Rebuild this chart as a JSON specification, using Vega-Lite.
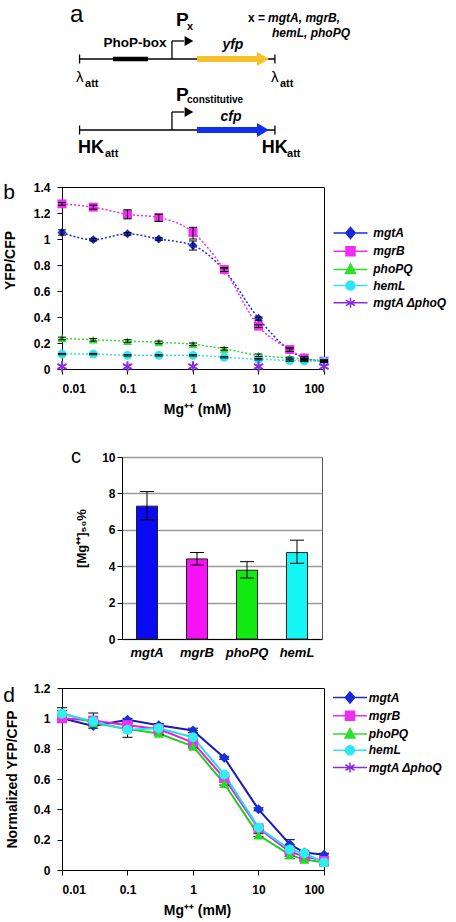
{
 "$schema": "https://vega.github.io/schema/vega-lite/v6.json",
 "background": "white",
 "padding": {"left": 2, "top": 0, "right": 0, "bottom": 0},
 "spacing": 21,
 "resolve": {"scale": {"color": "independent", "shape": "independent", "stroke": "independent"}},
 "config": {
  "font": "Liberation Sans",
  "view": {"stroke": null},
  "axis": {"labelFont": "Liberation Sans", "titleFont": "Liberation Sans", "labelFontWeight": "bold", "labelFontSize": 12, "labelColor": "black", "titleFontWeight": "bold", "titleFontSize": 13, "titleColor": "black", "domainColor": "black", "tickColor": "black", "grid": false, "tickSize": 5},
  "legend": {"labelFont": "Liberation Sans"},
  "text": {"font": "Liberation Sans"}
 },
 "datasets": {
  "segs": [
   {"part": "line", "x": 0, "x2": 100, "y": 5.9, "y2": 5.9},
   {"part": "line", "x": 0, "x2": 0, "y": 5.45, "y2": 6.35},
   {"part": "line", "x": 100, "x2": 100, "y": 5.45, "y2": 6.35},
   {"part": "line", "x": 47.3, "x2": 47.3, "y": 5.9, "y2": 4.1},
   {"part": "line", "x": 47.3, "x2": 53.5, "y": 4.1, "y2": 4.1},
   {"part": "line", "x": 0, "x2": 100, "y": 13.0, "y2": 13.0},
   {"part": "line", "x": 0, "x2": 0, "y": 12.55, "y2": 13.45},
   {"part": "line", "x": 100, "x2": 100, "y": 12.55, "y2": 13.45},
   {"part": "line", "x": 47.3, "x2": 47.3, "y": 13.0, "y2": 11.2},
   {"part": "line", "x": 47.3, "x2": 53.5, "y": 11.2, "y2": 11.2},
   {"part": "box", "x": 17.1, "x2": 35.0, "y": 5.9, "y2": 5.9},
   {"part": "yfp", "x": 60.1, "x2": 91.0, "y": 5.9, "y2": 5.9},
   {"part": "cfp", "x": 60.1, "x2": 91.0, "y": 13.0, "y2": 13.0}
  ],
  "heads": [
   {"part": "promoter", "x": 56.0, "y": 4.1},
   {"part": "promoter", "x": 56.0, "y": 11.2},
   {"part": "yfp", "x": 93.9, "y": 5.9},
   {"part": "cfp", "x": 93.9, "y": 13.0}
  ],
  "labels": [
   {"t": "a", "x": -4.9, "y": 1.5, "style": "panel"},
   {"t": "PhoP-box", "x": 28.4, "y": 4.3, "style": "lab"},
   {"t": "P", "x": 49.4, "y": 2.0, "style": "big"},
   {"t": "x", "x": 55.0, "y": 2.65, "style": "sub"},
   {"t": "yfp", "x": 78.5, "y": 4.5, "style": "gene"},
   {"t": "x =", "x": 86.2, "y": 1.83, "style": "noteplain"},
   {"t": "mgtA, mgrB,", "x": 96.5, "y": 1.83, "style": "note"},
   {"t": "hemL, phoPQ", "x": 98.5, "y": 3.33, "style": "note"},
   {"t": "λ", "x": -1.8, "y": 7.7, "style": "lambda"},
   {"t": "att", "x": 2.8, "y": 8.4, "style": "sub"},
   {"t": "λ", "x": 98.0, "y": 7.7, "style": "lambda"},
   {"t": "att", "x": 102.6, "y": 8.4, "style": "sub"},
   {"t": "P", "x": 49.4, "y": 9.5, "style": "big"},
   {"t": "constitutive", "x": 55.0, "y": 10.0, "style": "subs"},
   {"t": "cfp", "x": 77.5, "y": 11.67, "style": "gene"},
   {"t": "HK", "x": -0.8, "y": 14.8, "style": "hk"},
   {"t": "att", "x": 13.0, "y": 15.4, "style": "sub"},
   {"t": "HK", "x": 93.2, "y": 14.8, "style": "hk"},
   {"t": "att", "x": 106.2, "y": 15.4, "style": "sub"}
  ],
  "b": [
   {"series": "mgtA", "mg": 0.01, "v": 1.05, "lo": 1.03, "hi": 1.07},
   {"series": "mgtA", "mg": 0.03, "v": 0.995, "lo": 0.985, "hi": 1.005},
   {"series": "mgtA", "mg": 0.1, "v": 1.04, "lo": 1.03, "hi": 1.05},
   {"series": "mgtA", "mg": 0.3, "v": 1.0, "lo": 0.99, "hi": 1.01},
   {"series": "mgtA", "mg": 1, "v": 0.95, "lo": 0.915, "hi": 0.985},
   {"series": "mgtA", "mg": 3, "v": 0.76, "lo": 0.75, "hi": 0.775},
   {"series": "mgtA", "mg": 10, "v": 0.39, "lo": 0.375, "hi": 0.4},
   {"series": "mgtA", "mg": 30, "v": 0.145, "lo": 0.135, "hi": 0.155},
   {"series": "mgtA", "mg": 50, "v": 0.085, "lo": 0.078, "hi": 0.092},
   {"series": "mgtA", "mg": 100, "v": 0.06, "lo": 0.055, "hi": 0.065},
   {"series": "mgrB", "mg": 0.01, "v": 1.27, "lo": 1.26, "hi": 1.28},
   {"series": "mgrB", "mg": 0.03, "v": 1.245, "lo": 1.23, "hi": 1.26},
   {"series": "mgrB", "mg": 0.1, "v": 1.19, "lo": 1.155, "hi": 1.225},
   {"series": "mgrB", "mg": 0.3, "v": 1.165, "lo": 1.135, "hi": 1.19},
   {"series": "mgrB", "mg": 1, "v": 1.05, "lo": 1.0, "hi": 1.09},
   {"series": "mgrB", "mg": 3, "v": 0.765, "lo": 0.75, "hi": 0.78},
   {"series": "mgrB", "mg": 10, "v": 0.33, "lo": 0.32, "hi": 0.34},
   {"series": "mgrB", "mg": 30, "v": 0.15, "lo": 0.135, "hi": 0.165},
   {"series": "mgrB", "mg": 50, "v": 0.085, "lo": 0.075, "hi": 0.095},
   {"series": "mgrB", "mg": 100, "v": 0.06, "lo": 0.05, "hi": 0.07},
   {"series": "phoPQ", "mg": 0.01, "v": 0.235, "lo": 0.225, "hi": 0.245},
   {"series": "phoPQ", "mg": 0.03, "v": 0.225, "lo": 0.215, "hi": 0.235},
   {"series": "phoPQ", "mg": 0.1, "v": 0.215, "lo": 0.205, "hi": 0.225},
   {"series": "phoPQ", "mg": 0.3, "v": 0.205, "lo": 0.195, "hi": 0.215},
   {"series": "phoPQ", "mg": 1, "v": 0.19, "lo": 0.18, "hi": 0.2},
   {"series": "phoPQ", "mg": 3, "v": 0.155, "lo": 0.145, "hi": 0.165},
   {"series": "phoPQ", "mg": 10, "v": 0.105, "lo": 0.095, "hi": 0.115},
   {"series": "phoPQ", "mg": 30, "v": 0.085, "lo": 0.078, "hi": 0.092},
   {"series": "phoPQ", "mg": 50, "v": 0.075, "lo": 0.07, "hi": 0.08},
   {"series": "phoPQ", "mg": 100, "v": 0.065, "lo": 0.06, "hi": 0.07},
   {"series": "hemL", "mg": 0.01, "v": 0.115, "lo": 0.11, "hi": 0.12},
   {"series": "hemL", "mg": 0.03, "v": 0.115, "lo": 0.11, "hi": 0.12},
   {"series": "hemL", "mg": 0.1, "v": 0.105, "lo": 0.1, "hi": 0.11},
   {"series": "hemL", "mg": 0.3, "v": 0.105, "lo": 0.1, "hi": 0.11},
   {"series": "hemL", "mg": 1, "v": 0.105, "lo": 0.1, "hi": 0.11},
   {"series": "hemL", "mg": 3, "v": 0.09, "lo": 0.085, "hi": 0.095},
   {"series": "hemL", "mg": 10, "v": 0.075, "lo": 0.07, "hi": 0.08},
   {"series": "hemL", "mg": 30, "v": 0.065, "lo": 0.06, "hi": 0.07},
   {"series": "hemL", "mg": 50, "v": 0.062, "lo": 0.057, "hi": 0.067},
   {"series": "hemL", "mg": 100, "v": 0.058, "lo": 0.053, "hi": 0.063},
   {"series": "mgtA ΔphoQ", "mg": 0.01, "v": 0.02},
   {"series": "mgtA ΔphoQ", "mg": 0.1, "v": 0.02},
   {"series": "mgtA ΔphoQ", "mg": 1, "v": 0.02},
   {"series": "mgtA ΔphoQ", "mg": 10, "v": 0.02},
   {"series": "mgtA ΔphoQ", "mg": 100, "v": 0.02}
  ],
  "c": [
   {"gene": "mgtA", "val": 7.3, "lo": 6.55, "hi": 8.1},
   {"gene": "mgrB", "val": 4.4, "lo": 4.07, "hi": 4.75},
   {"gene": "phoPQ", "val": 3.78, "lo": 3.35, "hi": 4.25},
   {"gene": "hemL", "val": 4.75, "lo": 4.16, "hi": 5.43}
  ],
  "d": [
   {"series": "mgtA", "mg": 0.01, "v": 1.0, "lo": 0.99, "hi": 1.01},
   {"series": "mgtA", "mg": 0.03, "v": 0.95, "lo": 0.935, "hi": 0.965},
   {"series": "mgtA", "mg": 0.1, "v": 0.99, "lo": 0.98, "hi": 1.0},
   {"series": "mgtA", "mg": 0.3, "v": 0.955, "lo": 0.945, "hi": 0.965},
   {"series": "mgtA", "mg": 1, "v": 0.92, "lo": 0.905, "hi": 0.935},
   {"series": "mgtA", "mg": 3, "v": 0.74, "lo": 0.73, "hi": 0.75},
   {"series": "mgtA", "mg": 10, "v": 0.4, "lo": 0.39, "hi": 0.41},
   {"series": "mgtA", "mg": 30, "v": 0.17, "lo": 0.14, "hi": 0.2},
   {"series": "mgtA", "mg": 50, "v": 0.115, "lo": 0.1, "hi": 0.13},
   {"series": "mgtA", "mg": 100, "v": 0.1, "lo": 0.09, "hi": 0.11},
   {"series": "mgrB", "mg": 0.01, "v": 1.0, "lo": 0.99, "hi": 1.01},
   {"series": "mgrB", "mg": 0.03, "v": 0.985, "lo": 0.95, "hi": 1.035},
   {"series": "mgrB", "mg": 0.1, "v": 0.955, "lo": 0.945, "hi": 0.965},
   {"series": "mgrB", "mg": 0.3, "v": 0.93, "lo": 0.92, "hi": 0.94},
   {"series": "mgrB", "mg": 1, "v": 0.84, "lo": 0.83, "hi": 0.85},
   {"series": "mgrB", "mg": 3, "v": 0.605, "lo": 0.595, "hi": 0.615},
   {"series": "mgrB", "mg": 10, "v": 0.275, "lo": 0.265, "hi": 0.285},
   {"series": "mgrB", "mg": 30, "v": 0.12, "lo": 0.075, "hi": 0.165},
   {"series": "mgrB", "mg": 50, "v": 0.09, "lo": 0.075, "hi": 0.105},
   {"series": "mgrB", "mg": 100, "v": 0.06, "lo": 0.05, "hi": 0.07},
   {"series": "phoPQ", "mg": 0.01, "v": 1.035, "lo": 1.02, "hi": 1.05},
   {"series": "phoPQ", "mg": 0.03, "v": 0.97, "lo": 0.96, "hi": 0.98},
   {"series": "phoPQ", "mg": 0.1, "v": 0.93, "lo": 0.92, "hi": 0.94},
   {"series": "phoPQ", "mg": 0.3, "v": 0.9, "lo": 0.89, "hi": 0.91},
   {"series": "phoPQ", "mg": 1, "v": 0.815, "lo": 0.805, "hi": 0.825},
   {"series": "phoPQ", "mg": 3, "v": 0.57, "lo": 0.56, "hi": 0.58},
   {"series": "phoPQ", "mg": 10, "v": 0.23, "lo": 0.22, "hi": 0.24},
   {"series": "phoPQ", "mg": 30, "v": 0.1, "lo": 0.09, "hi": 0.11},
   {"series": "phoPQ", "mg": 50, "v": 0.07, "lo": 0.06, "hi": 0.08},
   {"series": "phoPQ", "mg": 100, "v": 0.05, "lo": 0.045, "hi": 0.055},
   {"series": "hemL", "mg": 0.01, "v": 1.03, "lo": 0.99, "hi": 1.07},
   {"series": "hemL", "mg": 0.03, "v": 0.98, "lo": 0.97, "hi": 0.99},
   {"series": "hemL", "mg": 0.1, "v": 0.925, "lo": 0.875, "hi": 0.975},
   {"series": "hemL", "mg": 0.3, "v": 0.935, "lo": 0.925, "hi": 0.945},
   {"series": "hemL", "mg": 1, "v": 0.875, "lo": 0.865, "hi": 0.885},
   {"series": "hemL", "mg": 3, "v": 0.63, "lo": 0.62, "hi": 0.64},
   {"series": "hemL", "mg": 10, "v": 0.28, "lo": 0.27, "hi": 0.29},
   {"series": "hemL", "mg": 30, "v": 0.135, "lo": 0.125, "hi": 0.145},
   {"series": "hemL", "mg": 50, "v": 0.11, "lo": 0.1, "hi": 0.12},
   {"series": "hemL", "mg": 100, "v": 0.05, "lo": 0.045, "hi": 0.055}
  ]
 },
 "vconcat": [
  {
   "width": 293, "height": 153,
   "encoding": {
    "x": {"field": "x", "type": "quantitative", "scale": {"domain": [-9, 141], "nice": false, "zero": false}, "axis": null},
    "y": {"field": "y", "type": "quantitative", "scale": {"domain": [0, 15.3], "nice": false, "zero": false, "reverse": true}, "axis": null}
   },
   "layer": [
    {"data": {"name": "segs"}, "transform": [{"filter": "datum.part === 'line'"}], "mark": {"type": "rule", "color": "black", "strokeWidth": 1.3}, "encoding": {"x2": {"field": "x2"}, "y2": {"field": "y2"}}},
    {"data": {"name": "segs"}, "transform": [{"filter": "datum.part === 'box'"}], "mark": {"type": "rule", "color": "black", "strokeWidth": 4.5}, "encoding": {"x2": {"field": "x2"}, "y2": {"field": "y2"}}},
    {"data": {"name": "segs"}, "transform": [{"filter": "datum.part === 'yfp' || datum.part === 'cfp'"}], "mark": {"type": "rule", "strokeWidth": 6}, "encoding": {"x2": {"field": "x2"}, "y2": {"field": "y2"}, "color": {"field": "part", "type": "nominal", "scale": {"domain": ["yfp", "cfp"], "range": ["#f5c228", "#1030f0"]}, "legend": null}}},
    {"data": {"name": "heads"}, "transform": [{"filter": "datum.part === 'promoter'"}], "mark": {"type": "point", "shape": "triangle-right", "filled": true, "color": "black", "opacity": 1, "size": 100}},
    {"data": {"name": "heads"}, "transform": [{"filter": "datum.part !== 'promoter'"}], "mark": {"type": "point", "shape": "triangle-right", "filled": true, "opacity": 1, "size": 190}, "encoding": {"color": {"field": "part", "type": "nominal", "scale": {"domain": ["yfp", "cfp"], "range": ["#f5c228", "#1030f0"]}, "legend": null}}},
    {"data": {"name": "labels"}, "transform": [{"filter": "datum.style === 'panel'"}], "mark": {"type": "text", "fontSize": 24, "align": "left", "baseline": "middle", "color": "black"}, "encoding": {"text": {"field": "t"}}},
    {"data": {"name": "labels"}, "transform": [{"filter": "datum.style === 'big'"}], "mark": {"type": "text", "fontSize": 19, "fontWeight": "bold", "align": "left", "baseline": "middle", "color": "black"}, "encoding": {"text": {"field": "t"}}},
    {"data": {"name": "labels"}, "transform": [{"filter": "datum.style === 'hk'"}], "mark": {"type": "text", "fontSize": 18, "fontWeight": "bold", "align": "left", "baseline": "middle", "color": "black"}, "encoding": {"text": {"field": "t"}}},
    {"data": {"name": "labels"}, "transform": [{"filter": "datum.style === 'sub'"}], "mark": {"type": "text", "fontSize": 11, "fontWeight": "bold", "align": "left", "baseline": "middle", "color": "black"}, "encoding": {"text": {"field": "t"}}},
    {"data": {"name": "labels"}, "transform": [{"filter": "datum.style === 'subs'"}], "mark": {"type": "text", "fontSize": 10, "fontWeight": "bold", "align": "left", "baseline": "middle", "color": "black"}, "encoding": {"text": {"field": "t"}}},
    {"data": {"name": "labels"}, "transform": [{"filter": "datum.style === 'lab'"}], "mark": {"type": "text", "fontSize": 13.5, "fontWeight": "bold", "align": "center", "baseline": "middle", "color": "black"}, "encoding": {"text": {"field": "t"}}},
    {"data": {"name": "labels"}, "transform": [{"filter": "datum.style === 'gene'"}], "mark": {"type": "text", "fontSize": 14, "fontWeight": "bold", "fontStyle": "italic", "align": "center", "baseline": "middle", "color": "black"}, "encoding": {"text": {"field": "t"}}},
    {"data": {"name": "labels"}, "transform": [{"filter": "datum.style === 'note'"}], "mark": {"type": "text", "fontSize": 12, "fontWeight": "bold", "fontStyle": "italic", "align": "left", "baseline": "middle", "color": "black"}, "encoding": {"text": {"field": "t"}}},
    {"data": {"name": "labels"}, "transform": [{"filter": "datum.style === 'noteplain'"}], "mark": {"type": "text", "fontSize": 12, "fontWeight": "bold", "align": "left", "baseline": "middle", "color": "black"}, "encoding": {"text": {"field": "t"}}},
    {"data": {"name": "labels"}, "transform": [{"filter": "datum.style === 'lambda'"}], "mark": {"type": "text", "fontSize": 15, "align": "left", "baseline": "middle", "color": "black"}, "encoding": {"text": {"field": "t"}}}
   ]
  },
  {
   "width": 262, "height": 182,
   "view": {"stroke": "black", "strokeWidth": 1},
   "data": {"name": "b"},
   "encoding": {
    "x": {"field": "mg", "type": "quantitative", "scale": {"type": "log", "domain": [0.01, 100], "nice": false}, "axis": {"values": [0.01, 0.1, 1, 10, 100], "format": "~g", "title": ["Mg⁺⁺ (mM)", " "], "titleFontSize": 14, "titleX": 135, "titleLineHeight": 8, "labelPadding": 9, "titlePadding": 8}},
    "y": {"field": "v", "type": "quantitative", "scale": {"domain": [0, 1.4], "nice": false, "zero": false}, "axis": {"values": [0, 0.2, 0.4, 0.6, 0.8, 1, 1.2, 1.4], "format": "~g", "title": "YFP/CFP", "titleFontSize": 14, "titleY": 73, "labelPadding": 7, "titlePadding": 16}}
   },
   "layer": [
    {"transform": [{"filter": "datum.series !== 'mgtA ΔphoQ'"}], "mark": {"type": "line", "strokeDash": [2, 2], "strokeWidth": 1.5, "interpolate": "monotone"}, "encoding": {"color": {"field": "series", "type": "nominal", "scale": {"domain": ["mgtA", "mgrB", "phoPQ", "hemL", "mgtA ΔphoQ"], "range": ["#1a2ad6", "#f02cf0", "#2ede2e", "#2ee6f0", "#8a2be2"]}, "legend": null}}},
    {"transform": [{"filter": "datum.series !== 'mgtA ΔphoQ'"}], "mark": {"type": "point", "filled": true, "opacity": 1, "size": 80}, "encoding": {"color": {"field": "series", "type": "nominal", "scale": {"domain": ["mgtA", "mgrB", "phoPQ", "hemL", "mgtA ΔphoQ"], "range": ["#1a2ad6", "#f02cf0", "#2ede2e", "#2ee6f0", "#8a2be2"]}, "legend": null}, "shape": {"field": "series", "type": "nominal", "scale": {"domain": ["mgtA", "mgrB", "phoPQ", "hemL"], "range": ["diamond", "square", "triangle-up", "circle"]}, "legend": null}}},
    {"transform": [{"filter": "datum.series === 'mgtA ΔphoQ'"}], "mark": {"type": "point", "shape": "M0,-1L0,1M-0.87,-0.5L0.87,0.5M-0.87,0.5L0.87,-0.5", "filled": false, "strokeWidth": 2, "color": "#8a2be2", "opacity": 1, "size": 110}},
    {"transform": [{"filter": "datum.series !== 'mgtA ΔphoQ'"}], "mark": {"type": "rule", "color": "black", "strokeWidth": 1}, "encoding": {"y": {"field": "lo", "type": "quantitative", "title": "YFP/CFP"}, "y2": {"field": "hi"}}},
    {"transform": [{"filter": "datum.series !== 'mgtA ΔphoQ'"}], "mark": {"type": "tick", "orient": "horizontal", "color": "black", "size": 8, "thickness": 1, "opacity": 1}, "encoding": {"y": {"field": "lo", "type": "quantitative", "title": "YFP/CFP"}}},
    {"transform": [{"filter": "datum.series !== 'mgtA ΔphoQ'"}], "mark": {"type": "tick", "orient": "horizontal", "color": "black", "size": 8, "thickness": 1, "opacity": 1}, "encoding": {"y": {"field": "hi", "type": "quantitative", "title": "YFP/CFP"}}},
    {"data": {"values": [{"mg": 0.01, "v": 1.4, "t": "b"}]}, "mark": {"type": "text", "fontSize": 21, "align": "center", "baseline": "alphabetic", "dx": -53, "dy": 12, "color": "black"}, "encoding": {"text": {"field": "t"}}},
    {"transform": [{"filter": "false"}], "mark": {"type": "point", "filled": true, "opacity": 1, "strokeWidth": 1.5},
     "encoding": {
      "color": {"field": "series", "type": "nominal", "scale": {"domain": ["mgtA", "mgrB", "phoPQ", "hemL", "mgtA ΔphoQ"], "range": ["#1a2ad6", "#f02cf0", "#2ede2e", "#2ee6f0", "#8a2be2"]}, "legend": {"orient": "none", "legendX": 282.5, "legendY": 40, "title": null, "symbolSize": 100, "symbolStrokeWidth": 1.5, "labelFontStyle": "italic", "labelFontWeight": "bold", "labelFontSize": 12, "labelColor": "black", "labelOffset": 16.75, "padding": 0, "rowPadding": 1.2}},
      "stroke": {"field": "series", "type": "nominal", "scale": {"domain": ["mgtA", "mgrB", "phoPQ", "hemL", "mgtA ΔphoQ"], "range": ["#1a2ad6", "#f02cf0", "#2ede2e", "#2ee6f0", "#8a2be2"]}, "legend": {"orient": "none", "legendX": 282.5, "legendY": 40, "title": null, "symbolSize": 100, "symbolStrokeWidth": 1.5, "labelFontStyle": "italic", "labelFontWeight": "bold", "labelFontSize": 12, "labelColor": "black", "labelOffset": 16.75, "padding": 0, "rowPadding": 1.2}},
      "shape": {"field": "series", "type": "nominal", "scale": {"domain": ["mgtA", "mgrB", "phoPQ", "hemL", "mgtA ΔphoQ"], "range": ["M-3.4,0L3.4,0M0,-1.1L0.95,0L0,1.1L-0.95,0Z", "M-3.4,0L3.4,0M-0.9,-0.9L0.9,-0.9L0.9,0.9L-0.9,0.9Z", "M-3.4,0L3.4,0M0,-1.1L1,0.8L-1,0.8Z", "M-3.4,0L3.4,0M0.9,0A0.9,0.9,0,1,1,-0.9,0A0.9,0.9,0,1,1,0.9,0Z", "M-3.4,0L3.4,0M0,-1L0,1M-0.9,-0.55L0.9,0.55M-0.9,0.55L0.9,-0.55"]}, "legend": {"orient": "none", "legendX": 282.5, "legendY": 40, "title": null, "symbolSize": 100, "symbolStrokeWidth": 1.5, "labelFontStyle": "italic", "labelFontWeight": "bold", "labelFontSize": 12, "labelColor": "black", "labelOffset": 16.75, "padding": 0, "rowPadding": 1.2}}
     }}
   ],
   "resolve": {"scale": {"color": "independent", "shape": "independent", "stroke": "independent"}}
  },
  {
   "hconcat": [
    {"width": 8, "height": 10, "view": {"stroke": null}, "data": {"values": [{"a": 1}]}, "mark": {"type": "point", "opacity": 0}, "encoding": {}},
    {
     "width": 200, "height": 182,
     "view": {"stroke": "#555", "strokeWidth": 1},
     "data": {"name": "c"},
     "encoding": {
      "x": {"field": "gene", "type": "nominal", "sort": null, "scale": {"paddingInner": 0.58, "paddingOuter": 0.29}, "axis": {"title": null, "labelAngle": 0, "labelFontStyle": "italic", "labelFontSize": 13, "ticks": false, "labelPadding": 7}},
      "y": {"field": "val", "type": "quantitative", "scale": {"domain": [0, 10], "nice": false}, "axis": {"values": [0, 2, 4, 6, 8, 10], "grid": true, "gridColor": "#9a9a9a", "gridWidth": 1.3, "title": "[Mg⁺⁺]₅₀%", "titleFontSize": 13, "titleY": 81, "labelPadding": 2, "titlePadding": 13}}
     },
     "layer": [
      {"mark": {"type": "bar", "stroke": "#222", "strokeWidth": 1}, "encoding": {"color": {"field": "gene", "type": "nominal", "scale": {"domain": ["mgtA", "mgrB", "phoPQ", "hemL"], "range": ["#0a0af5", "#f512f5", "#12e812", "#14f5f5"]}, "legend": null}}},
      {"mark": {"type": "rule", "color": "black", "strokeWidth": 1}, "encoding": {"y": {"field": "lo", "type": "quantitative", "title": "[Mg⁺⁺]₅₀%"}, "y2": {"field": "hi"}}},
      {"mark": {"type": "tick", "orient": "horizontal", "color": "black", "size": 14, "thickness": 1, "opacity": 1}, "encoding": {"y": {"field": "lo", "type": "quantitative", "title": "[Mg⁺⁺]₅₀%"}}},
      {"mark": {"type": "tick", "orient": "horizontal", "color": "black", "size": 14, "thickness": 1, "opacity": 1}, "encoding": {"y": {"field": "hi", "type": "quantitative", "title": "[Mg⁺⁺]₅₀%"}}},
      {"data": {"values": [{"gene": "mgtA", "val": 10, "t": "c"}]}, "mark": {"type": "text", "fontSize": 20, "align": "center", "baseline": "alphabetic", "dx": -71, "dy": 6, "color": "black"}, "encoding": {"text": {"field": "t"}}}
     ]
    }
   ],
   "spacing": 0
  },
  {
   "width": 262, "height": 182,
   "view": {"stroke": "black", "strokeWidth": 1},
   "data": {"name": "d"},
   "encoding": {
    "x": {"field": "mg", "type": "quantitative", "scale": {"type": "log", "domain": [0.01, 100], "nice": false}, "axis": {"values": [0.01, 0.1, 1, 10, 100], "format": "~g", "title": "Mg⁺⁺ (mM)", "titleFontSize": 14, "titleX": 135, "labelPadding": 9, "titlePadding": 8}},
    "y": {"field": "v", "type": "quantitative", "scale": {"domain": [0, 1.2], "nice": false, "zero": false}, "axis": {"values": [0, 0.2, 0.4, 0.6, 0.8, 1, 1.2], "format": "~g", "title": "Normalized YFP/CFP", "titleFontSize": 14, "labelPadding": 7, "titlePadding": 14}}
   },
   "layer": [
    {"mark": {"type": "line", "strokeWidth": 2}, "encoding": {"color": {"field": "series", "type": "nominal", "scale": {"domain": ["mgtA", "mgrB", "phoPQ", "hemL", "mgtA ΔphoQ"], "range": ["#1a1ab8", "#e020e0", "#22cc22", "#2adbe8", "#8a2be2"]}, "legend": null}}},
    {"mark": {"type": "rule", "color": "black", "strokeWidth": 1}, "encoding": {"y": {"field": "lo", "type": "quantitative", "title": "Normalized YFP/CFP"}, "y2": {"field": "hi"}}},
    {"mark": {"type": "tick", "orient": "horizontal", "color": "black", "size": 10, "thickness": 1, "opacity": 1}, "encoding": {"y": {"field": "lo", "type": "quantitative", "title": "Normalized YFP/CFP"}}},
    {"mark": {"type": "tick", "orient": "horizontal", "color": "black", "size": 10, "thickness": 1, "opacity": 1}, "encoding": {"y": {"field": "hi", "type": "quantitative", "title": "Normalized YFP/CFP"}}},
    {"mark": {"type": "point", "filled": true, "opacity": 1, "size": 100}, "encoding": {"color": {"field": "series", "type": "nominal", "scale": {"domain": ["mgtA", "mgrB", "phoPQ", "hemL", "mgtA ΔphoQ"], "range": ["#1530e0", "#f030f0", "#22dd22", "#33eef0", "#8a2be2"]}, "legend": null}, "shape": {"field": "series", "type": "nominal", "scale": {"domain": ["mgtA", "mgrB", "phoPQ", "hemL"], "range": ["diamond", "square", "triangle-up", "circle"]}, "legend": null}}},
    {"data": {"values": [{"mg": 0.01, "v": 1.2, "t": "d"}]}, "mark": {"type": "text", "fontSize": 21, "align": "center", "baseline": "alphabetic", "dx": -53, "dy": 14, "color": "black"}, "encoding": {"text": {"field": "t"}}},
    {"transform": [{"filter": "false"}], "mark": {"type": "point", "filled": true, "opacity": 1, "strokeWidth": 1.5},
     "encoding": {
      "color": {"field": "series", "type": "nominal", "scale": {"domain": ["mgtA", "mgrB", "phoPQ", "hemL", "mgtA ΔphoQ"], "range": ["#1a2ad6", "#f02cf0", "#2ede2e", "#2ee6f0", "#8a2be2"]}, "legend": {"orient": "none", "legendX": 282, "legendY": 3.5, "title": null, "symbolSize": 100, "symbolStrokeWidth": 1.5, "labelFontStyle": "italic", "labelFontWeight": "bold", "labelFontSize": 12, "labelColor": "black", "labelOffset": 12.75, "padding": 0, "rowPadding": 1.25}},
      "stroke": {"field": "series", "type": "nominal", "scale": {"domain": ["mgtA", "mgrB", "phoPQ", "hemL", "mgtA ΔphoQ"], "range": ["#1a2ad6", "#f02cf0", "#2ede2e", "#2ee6f0", "#8a2be2"]}, "legend": {"orient": "none", "legendX": 282, "legendY": 3.5, "title": null, "symbolSize": 100, "symbolStrokeWidth": 1.5, "labelFontStyle": "italic", "labelFontWeight": "bold", "labelFontSize": 12, "labelColor": "black", "labelOffset": 12.75, "padding": 0, "rowPadding": 1.25}},
      "shape": {"field": "series", "type": "nominal", "scale": {"domain": ["mgtA", "mgrB", "phoPQ", "hemL", "mgtA ΔphoQ"], "range": ["M-3.4,0L3.4,0M0,-1.1L0.95,0L0,1.1L-0.95,0Z", "M-3.4,0L3.4,0M-0.9,-0.9L0.9,-0.9L0.9,0.9L-0.9,0.9Z", "M-3.4,0L3.4,0M0,-1.1L1,0.8L-1,0.8Z", "M-3.4,0L3.4,0M0.9,0A0.9,0.9,0,1,1,-0.9,0A0.9,0.9,0,1,1,0.9,0Z", "M-3.4,0L3.4,0M0,-1L0,1M-0.9,-0.55L0.9,0.55M-0.9,0.55L0.9,-0.55"]}, "legend": {"orient": "none", "legendX": 282, "legendY": 3.5, "title": null, "symbolSize": 100, "symbolStrokeWidth": 1.5, "labelFontStyle": "italic", "labelFontWeight": "bold", "labelFontSize": 12, "labelColor": "black", "labelOffset": 12.75, "padding": 0, "rowPadding": 1.25}}
     }}
   ],
   "resolve": {"scale": {"color": "independent", "shape": "independent", "stroke": "independent"}}
  }
 ]
}
